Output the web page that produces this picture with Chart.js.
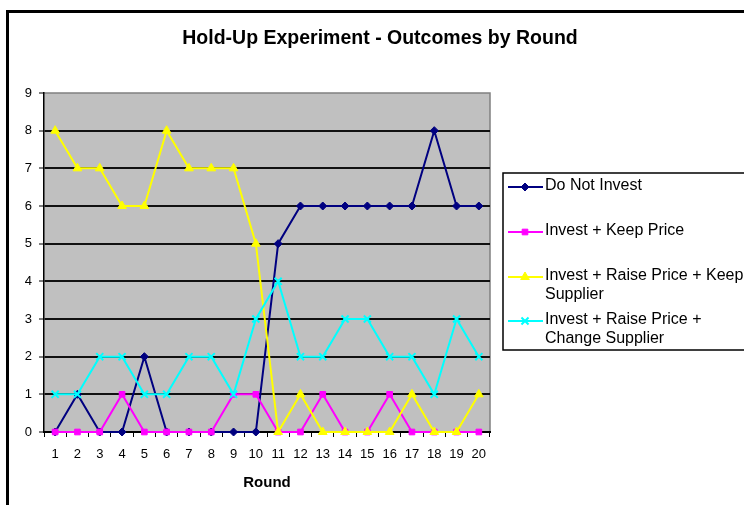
<!DOCTYPE html>
<html>
<head>
<meta charset="utf-8">
<title>Hold-Up Experiment - Outcomes by Round</title>
<script src="https://cdn.jsdelivr.net/npm/chart.js@4.4.1/dist/chart.umd.min.js"></script>
<style>
  html, body { margin: 0; padding: 0; background: #fff; }
  #wrap { position: relative; width: 744px; height: 505px; }
</style>
</head>
<body>
<div id="wrap"><canvas id="outcomeChart" width="744" height="505"></canvas></div>
<script>
const rounds = ['1', '2', '3', '4', '5', '6', '7', '8', '9', '10',
  '11', '12', '13', '14', '15', '16', '17', '18', '19', '20'];

const doNotInvest         = [0, 1, 0, 0, 2, 0, 0, 0, 0, 0, 5, 6, 6, 6, 6, 6, 6, 8, 6, 6];
const investKeepPrice     = [0, 0, 0, 1, 0, 0, 0, 0, 1, 1, 0, 0, 1, 0, 0, 1, 0, 0, 0, 0];
const raiseKeepSupplier   = [8, 7, 7, 6, 6, 8, 7, 7, 7, 5, 0, 1, 0, 0, 0, 0, 1, 0, 0, 1];
const raiseChangeSupplier = [1, 1, 2, 2, 1, 1, 2, 2, 1, 3, 4, 2, 2, 3, 3, 2, 2, 1, 3, 2];

// legend text, one array per series (each entry is a line)
const seriesNames = [
  ['Do Not Invest'],
  ['Invest + Keep Price'],
  ['Invest + Raise Price + Keep', 'Supplier'],
  ['Invest + Raise Price +', 'Change Supplier']
];

const yMin = 0;
const yMax = 9;
const chartTitle = 'Hold-Up Experiment - Outcomes by Round';
const xTitle = 'Round';

const FONT = 'Arial, "Liberation Sans", Helvetica, sans-serif';

// white page, black frame, grey plot area
const framePlugin = {
  id: 'frame',
  beforeDraw(chart) {
    const ctx = chart.ctx;
    const a = chart.chartArea;
    ctx.save();
    ctx.fillStyle = '#fff';
    ctx.fillRect(0, 0, chart.width, chart.height);

    ctx.strokeStyle = '#000';
    ctx.lineWidth = 3;
    ctx.beginPath();
    ctx.moveTo(7.5, chart.height + 5);
    ctx.lineTo(7.5, 11.5);
    ctx.lineTo(chart.width + 5, 11.5);
    ctx.stroke();

    ctx.fillStyle = '#c0c0c0';
    ctx.fillRect(a.left, a.top, a.right - a.left, a.bottom - a.top);
    ctx.strokeStyle = '#808080';
    ctx.lineWidth = 1.5;
    ctx.beginPath();
    ctx.moveTo(a.left, a.top);
    ctx.lineTo(a.right, a.top);
    ctx.lineTo(a.right, a.bottom);
    ctx.stroke();
    ctx.restore();
  },
  afterDraw(chart) {
    const ctx = chart.ctx;
    ctx.save();
    ctx.fillStyle = '#000';
    ctx.font = 'bold 19.5px ' + FONT;
    ctx.textAlign = 'center';
    ctx.textBaseline = 'middle';
    ctx.fillText(chartTitle, 380, 39);
    ctx.restore();
  }
};

// boxed legend with wrapped labels
const boxLegend = {
  id: 'boxLegend',
  afterDraw(chart) {
    const ctx = chart.ctx;
    const rows = [186, 231, 276, 320];
    ctx.save();
    ctx.strokeStyle = '#000';
    ctx.lineWidth = 1.5;
    ctx.strokeRect(503, 173, 260, 177);

    chart.data.datasets.forEach((ds, i) => {
      const y = rows[i];
      ctx.strokeStyle = ds.borderColor;
      ctx.lineWidth = 2;
      ctx.beginPath();
      ctx.moveTo(508, y + 1);
      ctx.lineTo(543, y + 1);
      ctx.stroke();

      ctx.fillStyle = ds.pointBackgroundColor;
      ctx.strokeStyle = ds.pointBorderColor;
      ctx.lineWidth = ds.pointBorderWidth;
      Chart.helpers.drawPoint(ctx, {
        pointStyle: ds.pointStyle,
        radius: ds.pointRadius,
        rotation: 0,
        borderWidth: ds.pointBorderWidth
      }, 525, y + 1);

      ctx.fillStyle = '#000';
      ctx.font = '16px ' + FONT;
      ctx.textAlign = 'left';
      ctx.textBaseline = 'middle';
      seriesNames[i].forEach((line, j) => {
        ctx.fillText(line, 545, y + j * 18.5);
      });
    });
    ctx.restore();
  }
};

function series(data, color, style, radius, order) {
  return {
    data: data,
    borderColor: color,
    backgroundColor: color,
    borderWidth: 2,
    pointStyle: style,
    pointRadius: radius,
    pointHoverRadius: radius,
    pointBackgroundColor: color,
    pointBorderColor: color,
    pointBorderWidth: style === 'crossRot' ? 2 : 1,
    tension: 0,
    clip: false,
    order: order
  };
}

const ctx = document.getElementById('outcomeChart').getContext('2d');
const chart = new Chart(ctx, {
  type: 'line',
  data: {
    labels: rounds,
    datasets: [
      series(doNotInvest, '#000080', 'rectRot', 4, 3),
      series(investKeepPrice, '#ff00ff', 'rect', 4, 2),
      series(raiseKeepSupplier, '#ffff00', 'triangle', 5, 1),
      series(raiseChangeSupplier, '#00ffff', 'crossRot', 5, 0)
    ]
  },
  options: {
    responsive: false,
    animation: false,
    events: [],
    layout: { padding: { top: 93, right: 254, bottom: 0, left: 0 } },
    plugins: {
      legend: { display: false },
      title: { display: false },
      tooltip: { enabled: false }
    },
    scales: {
      x: {
        offset: true,
        afterFit(scale) { scale.height = 73; },
        grid: {
          offset: true,
          drawOnChartArea: false,
          drawTicks: true,
          tickLength: 5,
          tickColor: '#000',
          tickWidth: 1
        },
        border: { color: '#000', width: 2 },
        ticks: {
          color: '#000',
          font: { family: FONT, size: 13 },
          padding: 10,
          maxRotation: 0,
          autoSkip: false
        },
        title: {
          display: true,
          text: xTitle,
          color: '#000',
          font: { family: FONT, size: 15, weight: 'bold' },
          padding: { top: 0, bottom: 13 }
        }
      },
      y: {
        min: yMin,
        max: yMax,
        afterFit(scale) { scale.width = 44; },
        grid: {
          color: (c) => (c.tick && c.tick.value === yMax ? 'rgba(0,0,0,0)' : '#111'),
          lineWidth: 2,
          drawTicks: true,
          tickLength: 5,
          tickColor: '#000',
          tickWidth: 1
        },
        border: { color: '#000', width: 1.5 },
        ticks: {
          stepSize: 1,
          color: '#000',
          font: { family: FONT, size: 13 },
          padding: 7
        }
      }
    }
  },
  plugins: [framePlugin, boxLegend]
});
</script>
</body>
</html>
